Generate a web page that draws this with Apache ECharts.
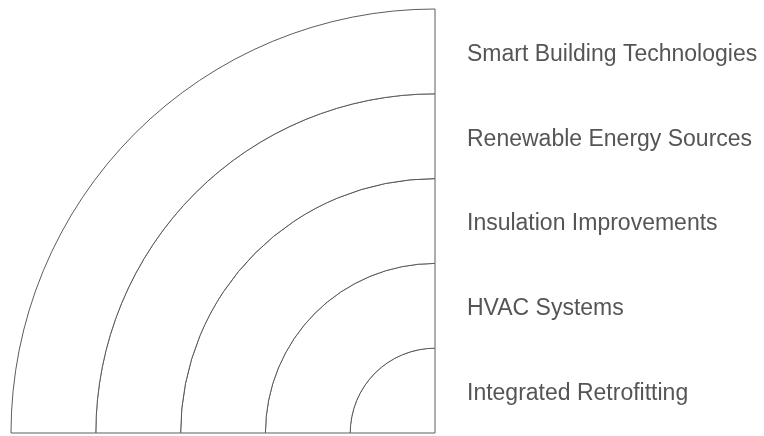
<!DOCTYPE html>
<html>
<head>
<meta charset="utf-8">
<script src="https://cdn.jsdelivr.net/npm/echarts@6/dist/echarts.min.js"></script>
<style>html,body{margin:0;padding:0;background:#fff}#c{width:764px;height:436px}</style>
</head>
<body>
<div id="c"></div>
<script>
// Rings from innermost to outermost
const categories = ['Integrated Retrofitting', 'HVAC Systems', 'Insulation Improvements', 'Renewable Energy Sources', 'Smart Building Technologies'];
// Angular span of each ring (degrees of a quarter circle)
const spans = [90, 90, 90, 90, 90];

const chart = echarts.init(document.getElementById('c'), null, {renderer: 'canvas'});
chart.setOption({
  backgroundColor: '#ffffff',
  animation: false,
  polar: { center: [435, 433], radius: [0, 424] },
  angleAxis: { type: 'value', min: 0, max: 360, startAngle: 180, clockwise: true, show: false },
  radiusAxis: { type: 'category', data: categories, show: false },
  grid: { left: 425, width: 10, top: 12, height: 424 },
  xAxis: { type: 'value', show: false, gridIndex: 0 },
  yAxis: {
    type: 'category', data: categories, position: 'right', gridIndex: 0,
    axisLine: { show: false }, axisTick: { show: false }, splitLine: { show: false },
    axisLabel: { margin: 32, fontSize: 23, color: '#555555', fontFamily: 'Liberation Sans, Arial, sans-serif' }
  },
  series: [{
    type: 'bar', coordinateSystem: 'polar', data: spans,
    barCategoryGap: '0%',
    itemStyle: { color: '#ffffff', borderColor: '#5c5c5c', borderWidth: 1 },
    silent: true
  }]
});
</script>
</body>
</html>
